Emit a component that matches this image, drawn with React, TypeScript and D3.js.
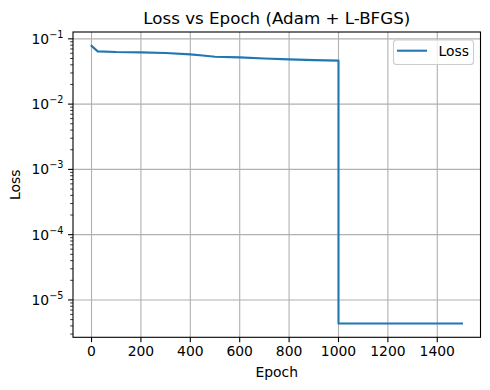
import React, { useEffect, useRef } from 'react';
import * as d3 from 'd3';

// Loss history: Adam phase then L-BFGS phase
const epochs = [0, 25, 100, 200, 300, 400, 450, 500, 600, 700, 800, 900, 1000, 1000, 1500];
const lossValues = [0.078, 0.0643, 0.0628, 0.0621, 0.0605, 0.0578, 0.0555, 0.0533, 0.052, 0.05, 0.0485, 0.0472, 0.0463, 4.37e-6, 4.37e-6];
const xTicks = [0, 200, 400, 600, 800, 1000, 1200, 1400];
const yExponents = [-5, -4, -3, -2, -1];

const App = () => {
    const svgRef = useRef(null);

    useEffect(() => {
        document.body.style.margin = '0';
        const width = 490;
        const height = 390;
        const margin = { left: 73, top: 32, right: 9.5, bottom: 52.7 };
        const font = 'DejaVu Sans, sans-serif';

        const svg = d3.select(svgRef.current);
        svg.selectAll('*').remove();
        svg.attr('width', width).attr('height', height);

        // matplotlib-like 5% margins (log space for y)
        const xMin = d3.min(epochs), xMax = d3.max(epochs);
        const xPad = (xMax - xMin) * 0.05;
        const lMin = Math.log10(d3.min(lossValues)), lMax = Math.log10(d3.max(lossValues));
        const lPad = (lMax - lMin) * 0.05;

        const x = d3.scaleLinear()
            .domain([xMin - xPad, xMax + xPad])
            .range([margin.left, width - margin.right]);
        const y = d3.scaleLog()
            .domain([Math.pow(10, lMin - lPad), Math.pow(10, lMax + lPad)])
            .range([height - margin.bottom, margin.top]);

        const [x0, x1] = x.range();
        const [y0, y1] = y.range();

        // grid lines
        const grid = svg.append('g').attr('stroke', '#b0b0b0').attr('stroke-width', 1.1);
        xTicks.forEach(t => {
            grid.append('line').attr('x1', x(t)).attr('x2', x(t)).attr('y1', y1).attr('y2', y0);
        });
        yExponents.forEach(e => {
            grid.append('line').attr('x1', x0).attr('x2', x1).attr('y1', y(Math.pow(10, e))).attr('y2', y(Math.pow(10, e)));
        });

        // loss curve
        const line = d3.line()
            .x((d, i) => x(epochs[i]))
            .y(d => y(d));
        svg.append('path')
            .datum(lossValues)
            .attr('d', line)
            .attr('fill', 'none')
            .attr('stroke', '#1f77b4')
            .attr('stroke-width', 2.08)
            .attr('stroke-linejoin', 'round')
            .attr('stroke-linecap', 'square');

        // frame
        svg.append('rect')
            .attr('x', x0).attr('y', y1)
            .attr('width', x1 - x0).attr('height', y0 - y1)
            .attr('fill', 'none').attr('stroke', 'black').attr('stroke-width', 1.1);

        // x ticks
        const xAxis = svg.append('g');
        xTicks.forEach(t => {
            xAxis.append('line').attr('x1', x(t)).attr('x2', x(t)).attr('y1', y0).attr('y2', y0 + 4.9)
                .attr('stroke', 'black').attr('stroke-width', 1.1);
            xAxis.append('text').attr('x', x(t)).attr('y', y0 + 19)
                .attr('text-anchor', 'middle').attr('font-family', font).attr('font-size', 13.9)
                .attr('fill', 'black').text(t);
        });

        // y ticks: major at decades, minor at 2..9
        const yAxis = svg.append('g');
        const [dLo, dHi] = y.domain();
        for (let e = Math.floor(Math.log10(dLo)); e <= Math.ceil(Math.log10(dHi)); e++) {
            for (let m = 2; m <= 9; m++) {
                const v = m * Math.pow(10, e);
                if (v < dLo || v > dHi) continue;
                yAxis.append('line').attr('x1', x0 - 2.8).attr('x2', x0).attr('y1', y(v)).attr('y2', y(v))
                    .attr('stroke', 'black').attr('stroke-width', 0.8);
            }
        }
        yExponents.forEach(e => {
            const yy = y(Math.pow(10, e));
            yAxis.append('line').attr('x1', x0 - 4.9).attr('x2', x0).attr('y1', yy).attr('y2', yy)
                .attr('stroke', 'black').attr('stroke-width', 1.1);
            const label = yAxis.append('text').attr('x', x0 - 9.5).attr('y', yy + 5)
                .attr('text-anchor', 'end').attr('font-family', font).attr('font-size', 13.9).attr('fill', 'black');
            label.append('tspan').text('10');
            label.append('tspan').attr('dy', -6).attr('font-size', 9.7).text(`\u2212${Math.abs(e)}`);
        });

        // axis labels and title
        svg.append('text').attr('x', (x0 + x1) / 2).attr('y', y0 + 40)
            .attr('text-anchor', 'middle').attr('font-family', font).attr('font-size', 13.9).text('Epoch');
        svg.append('text').attr('transform', `translate(20,${(y0 + y1) / 2}) rotate(-90)`)
            .attr('text-anchor', 'middle').attr('font-family', font).attr('font-size', 13.9).text('Loss');
        svg.append('text').attr('x', (x0 + x1) / 2).attr('y', y1 - 8)
            .attr('text-anchor', 'middle').attr('font-family', font).attr('font-size', 16.7).text('Loss vs Epoch (Adam + L-BFGS)');

        // legend
        const legend = svg.append('g').attr('transform', `translate(${x1 - 87},${y1 + 8})`);
        legend.append('rect').attr('width', 80).attr('height', 24.5).attr('rx', 3)
            .attr('fill', 'white').attr('fill-opacity', 0.8).attr('stroke', '#cccccc').attr('stroke-width', 1.1);
        legend.append('line').attr('x1', 3.5).attr('x2', 33.5).attr('y1', 10.7).attr('y2', 10.7)
            .attr('stroke', '#1f77b4').attr('stroke-width', 2.08);
        legend.append('text').attr('x', 45).attr('y', 15.5)
            .attr('font-family', font).attr('font-size', 13.9).text('Loss');
    }, []);

    return <svg ref={svgRef}></svg>;
};

export default App;
